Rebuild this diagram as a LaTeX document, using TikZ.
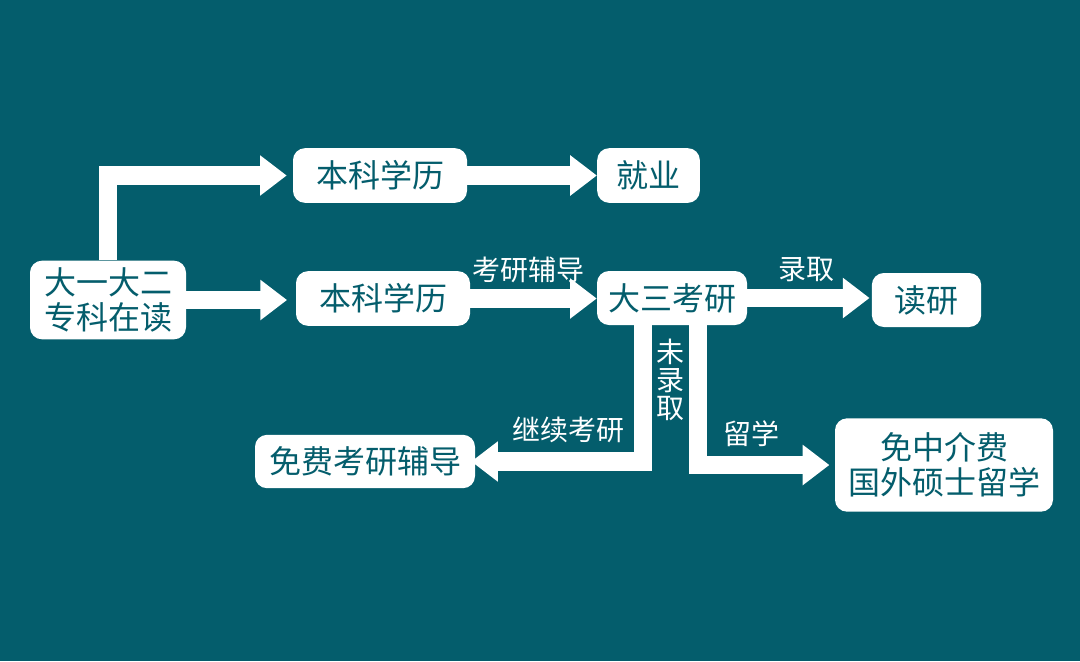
\documentclass[tikz,border=0pt]{standalone}
\usepackage{fontspec}
\newfontfamily\cjk{Noto Sans CJK SC}
\usetikzlibrary{arrows.meta,positioning}
\definecolor{bgteal}{HTML}{045D6C}

\begin{document}
\begin{tikzpicture}[x=0.75pt,y=-0.75pt,
  box/.style={fill=white,rounded corners=9pt,text=bgteal,font=\cjk\fontsize{24}{26}\selectfont,align=center,inner sep=0pt},
  lbl/.style={text=white,font=\cjk\fontsize{21}{21}\selectfont,align=center,inner sep=0pt},
  flow/.style={draw=white,line width=14pt,line join=miter,-{Triangle[length=20pt,width=29pt]}}]
  \fill[bgteal] (0,0) rectangle (1080,661);

  \node[box,minimum width=117pt,minimum height=59pt] (zk) at (108,300) {大一大二\\专科在读};
  \node[box,minimum width=130.5pt,minimum height=41pt] (bk1) at (380,175.5) {本科学历};
  \node[box,minimum width=77pt,minimum height=41pt] (jy) at (648.5,175.5) {就业};
  \node[box,minimum width=130.5pt,minimum height=41pt] (bk2) at (383,298.5) {本科学历};
  \node[box,minimum width=112.5pt,minimum height=40.5pt] (ks) at (672,298) {大三考研};
  \node[box,minimum width=82pt,minimum height=40.5pt] (dy) at (926.5,300) {读研};
  \node[box,minimum width=165pt,minimum height=40pt] (mf) at (365,461.5) {免费考研辅导};
  \node[box,minimum width=163.5pt,minimum height=70pt] (lx) at (944,465) {免中介费\\国外硕士留学};

  \node[lbl] (kyfd) at (528,270) {考研辅导};
  \node[lbl] (lq) at (806,270) {录取};
  \node[lbl,font=\cjk\fontsize{21}{21}\selectfont] (wlq) at (670,380) {未\\录\\取};
  \node[lbl] (jxky) at (568,430) {继续考研};
  \node[lbl] (lxue) at (751,434) {留学};

  \draw[flow,shorten >=4.5pt] (zk.north) |- (bk1.west);
  \draw[flow,shorten >=6.5pt] (zk.east) -- (zk.east -| bk2.west);
  \draw[flow] (bk1.east) -- (jy.west);
  \draw[flow] (bk2.east) -- (bk2.east -| ks.west);
  \draw[flow,shorten >=1.5pt] (ks.east) -- (ks.east -| dy.west);
  \draw[flow,shorten >=-3pt] ([xshift=-21.75pt]ks.south) |- (mf.east);
  \draw[flow,shorten >=4pt] ([xshift=19.5pt]ks.south) |- (lx.west);
\end{tikzpicture}
\end{document}
